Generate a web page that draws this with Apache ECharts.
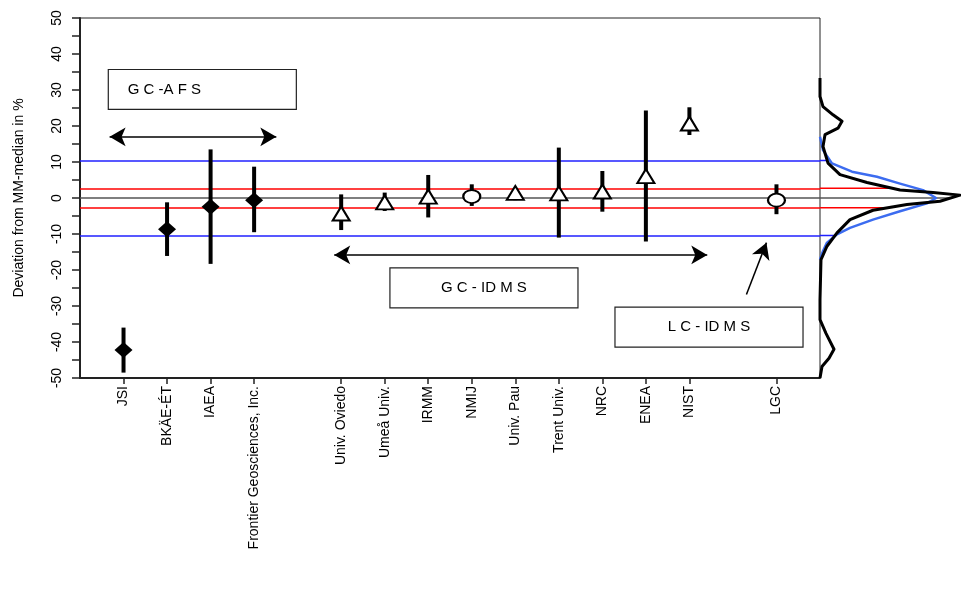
<!DOCTYPE html>
<html>
<head>
<meta charset="utf-8">
<script src="https://cdn.jsdelivr.net/npm/echarts@6/dist/echarts.min.js"></script>
<style>
html,body{margin:0;padding:0;background:#fff;}
#chart{width:961px;height:604px;}
</style>
</head>
<body>
<div id="chart"></div>
<script>
// ---- data ----
const categories = ['JSI','BKÄE-ÉT','IAEA','Frontier Geosciences, Inc.','Univ. Oviedo','Umeå Univ.','IRMM','NMIJ','Univ. Pau','Trent Univ.','NRC','ENEA','NIST','LGC'];
const slots      = [1, 2, 3, 4, 6, 7, 8, 9, 10, 11, 12, 13, 14, 16];
const deviation  = [-42.2, -8.7, -2.4, -0.6, -4.3, -1.2, 0.4, 0.4, 1.4, 1.3, 1.8, 6.1, 20.7, -0.6];
const upper      = [-36.0, -1.2, 13.5, 8.7, 1.0, 1.5, 6.4, 3.8, 2.5, 14.0, 7.5, 24.3, 25.2, 3.8];
const lower      = [-48.5, -16.1, -18.3, -9.5, -8.9, -3.6, -5.4, -2.2, -0.6, -11.0, -3.8, -12.1, 17.5, -4.5];
const markerType = ['diamond','diamond','diamond','diamond','triangle','triangle','triangle','circle','triangle','triangle','triangle','triangle','triangle','circle'];
const slotCount = 17;

const yTicks = [-50,-40,-30,-20,-10,0,10,20,30,40,50];
const refRed = [2.7, -2.7];
const refBlue = [10.4, -10.4];
const refZero = [0];

// kernel density curves (density, deviation)
const densBlackDev = [33.3, 28.2, 25.4, 23.1, 21.3, 19.4, 17.6, 14.3, 9.7, 6.5, 4.3, 2.2, 1.5, 0.8, -0.9, -1.8, -3.4, -6.0, -9.7, -13.4, -17.1, -28.2, -33.8, -37.6, -42.0, -44.5, -46.8, -50.0];
const densBlackVal = [0, 0, 3, 13, 22, 18, 5, 3, 8, 20, 47, 80, 113, 140, 120, 87, 53, 30, 17, 7, 1, 0, 0, 6, 14, 9, 2, 0];
const densBlueDev  = [17.0, 13.3, 9.6, 7.3, 5.9, 4.0, 2.2, 0, -1.5, -3.7, -6.0, -8.3, -10.1, -12.4, -14.7, -17.1];
const densBlueVal  = [0, 3, 12, 32, 57, 80, 103, 116, 107, 80, 53, 30, 17, 7, 3, 0];

// annotations (data coordinates)
const boxes = [
  {text:'G C -A F S', x:[0.65, 4.97], y:[24.6, 35.7], pos:'insideLeft'},
  {text:'G C - ID M S', x:[7.12, 11.44], y:[-30.5, -19.4], pos:'inside'},
  {text:'L C - ID M S', x:[12.29, 16.61], y:[-41.4, -30.3], pos:'inside'}
];
const arrows = [
  {from:[0.68, 17.0], to:[4.51, 17.0], both:true},
  {from:[5.84, -15.8], to:[14.41, -15.8], both:true},
  {from:[15.31, -26.8], to:[15.77, -12.4], both:false}
];

// ---- build ----
const slotNames = [];
for (let i = 0; i <= slotCount; i++) {
  const k = slots.indexOf(i);
  slotNames.push(k >= 0 ? categories[k] : ' '.repeat(i + 1));
}
function interpBlack(v) {
  for (let i = 0; i < densBlackDev.length - 1; i++) {
    const a = densBlackDev[i], b = densBlackDev[i+1];
    if ((v <= a && v >= b)) {
      const t = (a === b) ? 0 : (a - v) / (a - b);
      return densBlackVal[i] + t * (densBlackVal[i+1] - densBlackVal[i]);
    }
  }
  return 0;
}
const FONT = 'Liberation Sans, Arial, sans-serif';

const errData = slots.map((s, i) => [s, lower[i], upper[i]]);
function scatterFor(type) {
  const d = [];
  slots.forEach((s, i) => { if (markerType[i] === type) d.push([s, deviation[i]]); });
  return d;
}

const refLines = [];
refBlue.forEach(v => refLines.push({yAxis: v, lineStyle: {color: '#2020ff', width: 1.5, type: 'solid'}}));
refRed.forEach(v => refLines.push({yAxis: v, lineStyle: {color: '#ff0000', width: 1.5, type: 'solid'}}));
refZero.forEach(v => refLines.push({yAxis: v, lineStyle: {color: '#555555', width: 1.5, type: 'solid'}}));

const extSeries = [];
[[refBlue, '#2020ff'], [refRed, '#ff0000'], [refZero, '#555555']].forEach(([arr, col]) => {
  arr.forEach(v => {
    extSeries.push({
      type: 'line', xAxisIndex: 2, yAxisIndex: 1, silent: true, symbol: 'none', z: 1,
      data: [[0, v], [interpBlack(v), v]],
      lineStyle: {color: col, width: 1.5}
    });
  });
});

const option = {
  animation: false,
  backgroundColor: '#fff',
  grid: [
    {left: 80, top: 18, width: 740, height: 360, show: true, borderColor: '#222', borderWidth: 1},
    {left: 820, top: 18, width: 141, height: 360, show: false}
  ],
  xAxis: [
    {type: 'value', gridIndex: 0, min: 0, max: slotCount, show: false},
    {type: 'category', gridIndex: 0, data: slotNames, boundaryGap: false, position: 'bottom',
     axisLine: {show: true, lineStyle: {color: '#222', width: 2}},
     axisTick: {show: true, length: 6, alignWithLabel: true, lineStyle: {color: '#222', width: 1.5},
                interval: (idx, val) => val.trim() !== ''},
     axisLabel: {rotate: 90, interval: (idx, val) => val.trim() !== '', margin: 8,
                 fontFamily: FONT, fontSize: 14, color: '#000', formatter: v => v.trim()},
     splitLine: {show: false}},
    {type: 'value', gridIndex: 1, min: 0, max: 141, show: false}
  ],
  yAxis: [
    {type: 'value', gridIndex: 0, min: -50, max: 50, interval: 5,
     name: 'Deviation from MM-median in %', nameLocation: 'middle', nameGap: 54, nameRotate: 90,
     nameTextStyle: {fontFamily: FONT, fontSize: 14, color: '#000'},
     axisLine: {show: true, lineStyle: {color: '#222', width: 2}},
     axisTick: {show: true, length: 8, lineStyle: {color: '#222', width: 1.5}},
     axisLabel: {rotate: 90, margin: 16, fontFamily: FONT, fontSize: 14, color: '#000',
                 formatter: v => (yTicks.indexOf(v) >= 0 ? String(v) : '')},
     splitLine: {show: false}},
    {type: 'value', gridIndex: 1, min: -50, max: 50, show: false}
  ],
  series: [
    {
      type: 'custom', xAxisIndex: 0, yAxisIndex: 0, z: 3, silent: true,
      data: errData,
      renderItem: function (params, api) {
        const p1 = api.coord([api.value(0), api.value(1)]);
        const p2 = api.coord([api.value(0), api.value(2)]);
        return {type: 'line', shape: {x1: p1[0], y1: p1[1], x2: p2[0], y2: p2[1]},
                style: {stroke: '#000', lineWidth: 4}};
      },
      markLine: {silent: true, symbol: ['none', 'none'], label: {show: false}, z: 1,
                 lineStyle: {type: 'solid'}, data: refLines},
      markArea: {
        silent: true,
        data: boxes.map(b => [
          {coord: [b.x[0], b.y[1]], itemStyle: {color: '#fff', borderColor: '#222', borderWidth: 1.2},
           label: {show: true, position: b.pos, distance: 20, formatter: b.text, fontFamily: FONT, fontSize: 15, color: '#000'}},
          {coord: [b.x[1], b.y[0]]}
        ])
      }
    },
    {
      type: 'line', xAxisIndex: 0, yAxisIndex: 0, data: [], silent: true, symbol: 'none',
      markLine: {
        silent: true, label: {show: false}, lineStyle: {color: '#000', width: 1.5, type: 'solid'},
        symbolSize: [14, 16],
        data: arrows.map(a => [
          {coord: a.from, symbol: a.both ? 'arrow' : 'none'},
          {coord: a.to, symbol: 'arrow'}
        ])
      }
    },
    {type: 'scatter', xAxisIndex: 0, yAxisIndex: 0, z: 5, silent: true, symbol: 'diamond', symbolSize: [18, 16],
     itemStyle: {color: '#000', opacity: 1}, data: scatterFor('diamond')},
    {type: 'scatter', xAxisIndex: 0, yAxisIndex: 0, z: 5, silent: true, symbol: 'triangle', symbolSize: [17, 14],
     itemStyle: {color: '#fff', borderColor: '#000', borderWidth: 2, opacity: 1}, data: scatterFor('triangle')},
    {type: 'scatter', xAxisIndex: 0, yAxisIndex: 0, z: 5, silent: true, symbol: 'circle', symbolSize: [17, 13],
     itemStyle: {color: '#fff', borderColor: '#000', borderWidth: 2, opacity: 1}, data: scatterFor('circle')},
    {type: 'line', xAxisIndex: 2, yAxisIndex: 1, silent: true, symbol: 'none', smooth: false, z: 3,
     data: densBlueVal.map((d, i) => [d, densBlueDev[i]]),
     lineStyle: {color: '#3c6cf0', width: 2.5, join: 'round'}},
    {type: 'line', xAxisIndex: 2, yAxisIndex: 1, silent: true, symbol: 'none', smooth: false, z: 4,
     data: densBlackVal.map((d, i) => [d, densBlackDev[i]]),
     lineStyle: {color: '#000', width: 3, join: 'round'}}
  ].concat(extSeries)
};

const chart = echarts.init(document.getElementById('chart'), null, {renderer: 'canvas'});
chart.setOption(option);
</script>
</body>
</html>
